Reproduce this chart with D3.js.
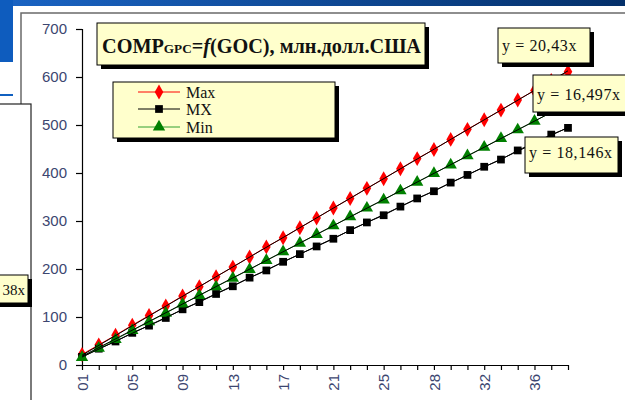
<!DOCTYPE html>
<html><head><meta charset="utf-8">
<script src="https://cdn.jsdelivr.net/npm/d3@7"></script>
<style>html,body{margin:0;padding:0;background:#fff;overflow:hidden}</style>
</head><body>
<svg id="c" width="625" height="400"></svg>
<script>
const categories = ["01","02","04","05","07","08","09","11","12","13","15","16","17","19","20","21","22","24","25","26","27","28","30","31","32","34","35","36","37","38"];
const tickLabels = ["01","05","09","13","17","21","25","28","32","36"];
const maxValues = [22,42,62,83,103,123,144,163,184,204,225,246,265,286,306,327,347,368,388,409,430,449,470,491,511,531,552,572,593,611];
const mxValues  = [17,34,49,67,82,98,116,131,148,164,182,197,215,231,247,263,281,297,312,330,347,362,380,396,413,428,447,463,480,494];
const minValues = [16,35,53,72,90,108,127,145,163,181,199,218,236,254,272,290,309,327,344,363,381,399,417,436,454,472,490,508,526,544];
const yTicks = [0,100,200,300,400,500,600,700];
const trendSlopes = {Max: 20.43, MX: 16.497, Min: 18.146};
const seriesNames = ["Max","MX","Min"];

const svg = d3.select("#c");
// background decorations
const defs = svg.append("defs");
const g1 = defs.append("linearGradient").attr("id","topbar").attr("x1","0").attr("x2","1");
g1.append("stop").attr("offset","0").attr("stop-color","#1a64c4");
g1.append("stop").attr("offset","1").attr("stop-color","#04306a");
svg.append("rect").attr("x",0).attr("y",0).attr("width",625).attr("height",6).attr("fill","url(#topbar)");
svg.append("rect").attr("x",0).attr("y",0).attr("width",13).attr("height",62).attr("fill","#0e5cbe");
svg.append("rect").attr("x",0).attr("y",94).attr("width",13).attr("height",2).attr("fill","#1060c0");
// main chart frame
svg.append("rect").attr("x",21).attr("y",13).attr("width",620).attr("height",400)
  .attr("fill","#fff").attr("stroke","#6a6a6a").attr("stroke-width",1.5);
// left neighbour chart frame
svg.append("rect").attr("x",-5).attr("y",104).attr("width",36).attr("height",310)
  .attr("fill","#fff").attr("stroke","#222").attr("stroke-width",1.2);

function labelBox(x,y,w,h,txt,tx,ty,anchor,fs){
  svg.append("rect").attr("x",x+4).attr("y",y+4).attr("width",w).attr("height",h).attr("fill","#000");
  svg.append("rect").attr("x",x).attr("y",y).attr("width",w).attr("height",h)
    .attr("fill","#ffffcc").attr("stroke","#000").attr("stroke-width",1);
  svg.append("text").attr("x",tx).attr("y",ty).attr("text-anchor",anchor||"start")
    .attr("font-family","'Liberation Serif','Times New Roman',serif").attr("font-size",fs||16)
    .attr("letter-spacing",fs?0:0.6).attr("fill","#111").text(txt);
}
labelBox(-10,275,38,28,"38x",25,295,"end",15);

const x = d3.scalePoint().domain(categories).range([82,568]);
const y = d3.scaleLinear().domain([0,700]).range([365,29]);

const tickColor = "#3c4670";
const yAxis = svg.append("g").attr("transform","translate(82,0)")
  .call(d3.axisLeft(y).tickValues(yTicks).tickSize(6).tickPadding(9).tickFormat(d3.format("d")));
const xAxis = svg.append("g").attr("transform","translate(0,365)")
  .call(d3.axisBottom(x).tickSize(5).tickFormat(d => tickLabels.includes(d) && categories.indexOf(d)%3===0 ? d : ""));
[yAxis,xAxis].forEach(a=>{
  a.select(".domain").attr("stroke","#000").attr("stroke-width",1.2);
  a.selectAll(".tick line").attr("stroke","#000").attr("stroke-width",1.2);
  a.selectAll("text").attr("font-family","'Liberation Sans',Arial,sans-serif").attr("font-size",15).attr("fill",tickColor);
});
xAxis.select(".domain").attr("d","M82,0.5H568");
xAxis.selectAll(".tick text").attr("transform","rotate(-90)").attr("text-anchor","end")
  .attr("x",-9).attr("y",0).attr("dy","0.35em");

const data = {Max: maxValues, MX: mxValues, Min: minValues};
const colors = {Max:"#ff0000", MX:"#000000", Min:"#008000"};
const lineColors = {Max:"#ff0000", MX:"#000000", Min:"#30a030"};
const symbols = {Max: d3.symbolDiamond, MX: d3.symbolSquare, Min: d3.symbolTriangle};
const sizes = {Max: 64, MX: 60, Min: 66};

const line = d3.line().x((d,i)=>x(categories[i])).y(d=>y(d));
seriesNames.forEach(s=>{
  svg.append("path").datum(data[s]).attr("d",line).attr("fill","none").attr("stroke",lineColors[s]).attr("stroke-width",1);
});
seriesNames.forEach(s=>{
  svg.append("g").selectAll("path").data(data[s]).join("path")
    .attr("transform",(d,i)=>`translate(${x(categories[i])},${y(d)})`)
    .attr("d",d3.symbol().type(symbols[s]).size(sizes[s])).attr("fill",colors[s]);
});
// linear trend lines through origin
seriesNames.forEach(s=>{
  const a = trendSlopes[s];
  const pts = [0, categories.length-1].map(i=>[x(categories[i]), y(a*(i+1))]);
  svg.append("path").attr("d",d3.line()(pts)).attr("stroke","#000").attr("stroke-width",1).attr("fill","none");
});

// title
svg.append("rect").attr("x",101).attr("y",27).attr("width",328).attr("height",42).attr("fill","#000");
svg.append("rect").attr("x",97).attr("y",23).attr("width",328).attr("height",42).attr("fill","#ffffcc").attr("stroke","#000");
const t = svg.append("text").attr("x",102).attr("y",53)
  .attr("font-family","'Liberation Serif','Times New Roman',serif").attr("font-weight","bold")
  .attr("font-size",20).attr("fill","#111").attr("textLength",319).attr("lengthAdjust","spacingAndGlyphs");
t.append("tspan").text("COMP");
t.append("tspan").attr("font-size",13).text("GPC");
t.append("tspan").text("=");
t.append("tspan").attr("font-style","italic").text("f");
t.append("tspan").text("(GOC), млн.долл.США");

// legend
svg.append("rect").attr("x",117).attr("y",86).attr("width",222).attr("height",56).attr("fill","#000");
svg.append("rect").attr("x",113).attr("y",82).attr("width",222).attr("height",56).attr("fill","#ffffcc").attr("stroke","#000");
const legY = {Max:92, MX:109, Min:127};
seriesNames.forEach(s=>{
  const ly = legY[s];
  svg.append("line").attr("x1",138).attr("x2",180).attr("y1",ly).attr("y2",ly).attr("stroke",lineColors[s]).attr("stroke-width",1);
  svg.append("path").attr("transform",`translate(159,${ly})`).attr("d",d3.symbol().type(symbols[s]).size(sizes[s])).attr("fill",colors[s]);
  svg.append("text").attr("x",186).attr("y",ly+5.5).attr("font-family","'Liberation Serif','Times New Roman',serif")
    .attr("font-size",16).attr("fill","#111").text(s);
});

// trend equation labels
labelBox(498,28,92,35,"y = 20,43x",502,51);
labelBox(533,75,100,37,"y = 16,497x",537,100);
labelBox(525,137,93,36,"y = 18,146x",529,158);
</script>
</body></html>
